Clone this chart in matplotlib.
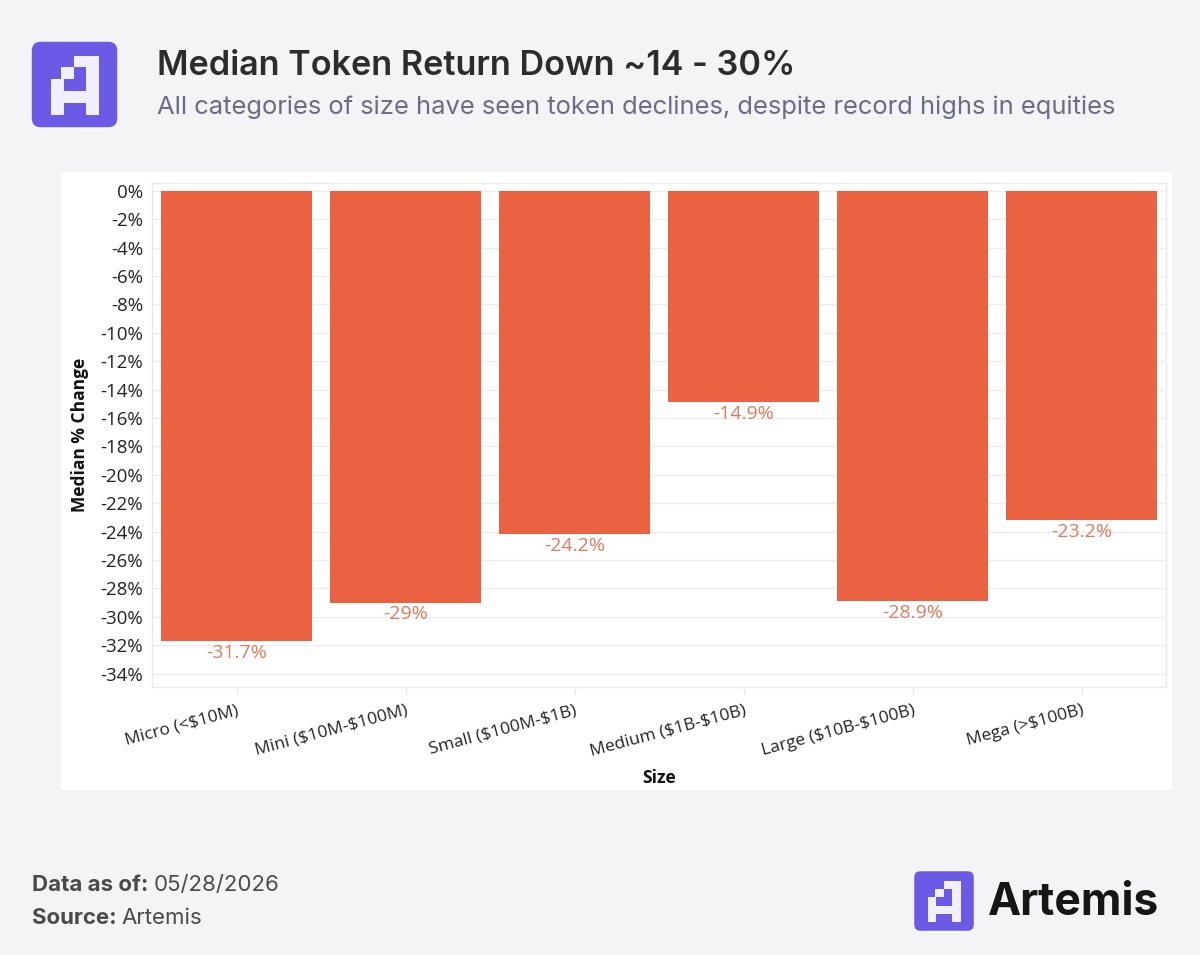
import matplotlib
matplotlib.use("Agg")
import matplotlib.pyplot as plt
from matplotlib.patches import Rectangle, FancyBboxPatch
from matplotlib.ticker import MultipleLocator, FuncFormatter

# ---------------------------------------
# Data
# ---------------------------------------
categories = ["Micro (<$10M)", "Mini ($10M-$100M)", "Small ($100M-$1B)",
              "Medium ($1B-$10B)", "Large ($10B-$100B)", "Mega (>$100B)"]
median_change = [-31.7, -29.0, -24.2, -14.9, -28.9, -23.2]
value_labels = ["-31.7%", "-29%", "-24.2%", "-14.9%", "-28.9%", "-23.2%"]

title = "Median Token Return Down ~14 - 30%"
subtitle = "All categories of size have seen token declines, despite record highs in equities"
data_date = "05/28/2026"
source = "Artemis"

# ---------------------------------------
# Colours / fonts
# ---------------------------------------
BG = "#f4f4f6"
BAR = "#ea6241"
LABEL = "#e27a5b"
PURPLE = "#6a5ae6"
GRID = "#ececec"
plt.rcParams['font.family'] = ['Open Sans', 'DejaVu Sans']
plt.rcParams['text.parse_math'] = False   # "$" in labels is literal

W, H = 1200, 955
fig = plt.figure(figsize=(W / 100, H / 100), dpi=100, facecolor=BG)


def px(x, y):
    # pixel coords (from top-left) -> figure fraction
    return x / W, 1 - y / H


def draw_logo(x0, y0, size):
    # purple rounded square with pixel "A"
    ax = fig.add_axes([x0 / W, 1 - (y0 + size) / H, size / W, size / H])
    ax.set_xlim(0, 1)
    ax.set_ylim(1, 0)
    ax.axis('off')
    ax.add_patch(FancyBboxPatch((0.02, 0.02), 0.96, 0.96,
                                boxstyle="round,pad=0,rounding_size=0.1",
                                fc=PURPLE, ec="none"))
    rects = [(0.498, 0.770, 0.181, 0.308),
             (0.630, 0.770, 0.181, 0.846),
             (0.347, 0.498, 0.308, 0.442),
             (0.234, 0.377, 0.442, 0.846),
             (0.234, 0.770, 0.577, 0.712)]
    for xa, xb, ya, yb in rects:
        ax.add_patch(Rectangle((xa, ya), xb - xa, yb - ya, fc="#f1effb", ec="none"))


# white chart panel (behind everything)
panel = fig.add_axes([61 / W, 1 - 790 / H, 1111 / W, 618 / H], zorder=-1)
panel.axis('off')
panel.add_patch(Rectangle((0, 0), 1, 1, transform=panel.transAxes, fc="white", ec="none"))

# header
draw_logo(30, 40, 89)
fig.text(*px(157, 66), title, fontsize=24.6, fontweight='semibold',
         color="#2b2b30", family=['Inter', 'DejaVu Sans'], va='center')
fig.text(*px(157, 107), subtitle, fontsize=18.4, color="#6c6c86",
         family=['Inter', 'DejaVu Sans'], va='center')

# ---------------------------------------
# Bar chart
# ---------------------------------------
ax = fig.add_axes([152 / W, 1 - 687 / H, 1014 / W, 504 / H], zorder=2)
ax.set_facecolor("white")
x = list(range(len(categories)))
ax.bar(x, median_change, width=0.895, color=BAR, zorder=2)

for xi, v, lab in zip(x, median_change, value_labels):
    ax.annotate(lab, (xi, v), xytext=(0, -2), textcoords='offset points',
                ha='center', va='top', fontsize=14, color=LABEL)

ax.set_xlim(-0.5, 5.5)
ax.set_ylim(-34.95, 0.56)
ax.yaxis.set_major_locator(MultipleLocator(2))
ax.yaxis.set_major_formatter(FuncFormatter(lambda v, p: f"{v:.0f}%"))
ax.grid(axis='y', color=GRID, linewidth=1, zorder=0)
ax.set_xticks(x)
ax.set_xticklabels(categories, rotation=15, ha='right', rotation_mode='anchor')
ax.tick_params(axis='x', length=5, color="#e6e6e6", labelsize=12.5, pad=6,
               labelcolor="#222222")
ax.tick_params(axis='y', length=0, labelsize=13.5, pad=6.5, labelcolor="#222222")
for s in ax.spines.values():
    s.set_color("#e8e8e8")
    s.set_linewidth(1)

ax.set_xlabel("Size", fontsize=12.5, fontweight='bold', labelpad=7, color="#111111")
ax.set_ylabel("Median % Change", fontsize=12.5, fontweight='bold', labelpad=8,
              color="#111111")

# ---------------------------------------
# Footer
# ---------------------------------------
ff = ['Inter', 'DejaVu Sans']
t1 = fig.text(*px(32, 885), "Data as of: ", fontsize=16, fontweight='bold',
              color="#4a4a4a", family=ff, va='center')
fig.canvas.draw()
bb = t1.get_window_extent()
fig.text(bb.x1 / W, 1 - 885 / H, data_date, fontsize=16, color="#4a4a4a",
         family=ff, va='center')
t2 = fig.text(*px(32, 918), "Source: ", fontsize=16, fontweight='bold',
              color="#4a4a4a", family=ff, va='center')
fig.canvas.draw()
bb2 = t2.get_window_extent()
fig.text(bb2.x1 / W, 1 - 918 / H, source, fontsize=16, color="#4a4a4a",
         family=ff, va='center')

draw_logo(913, 870, 62)
fig.text(*px(988, 903), "Artemis", fontsize=32, fontweight='bold',
         color="#161616", family=ff, va='center')

fig.savefig("out.png", dpi=100, facecolor=BG)
